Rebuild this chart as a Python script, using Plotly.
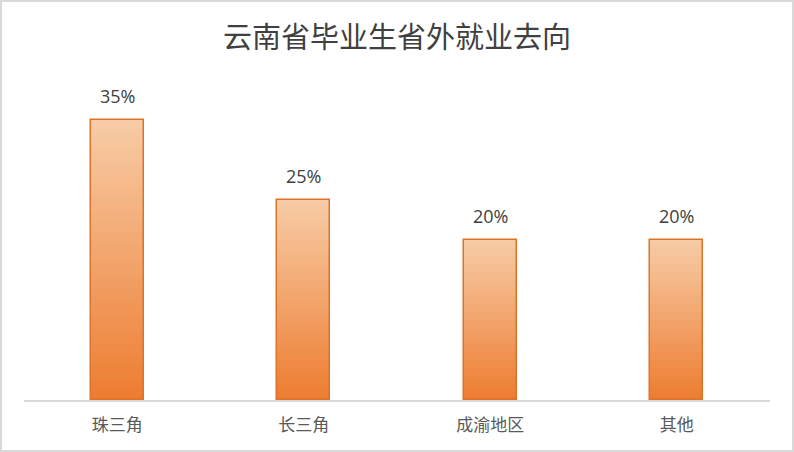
import plotly.graph_objects as go

# ─── Veri ───
categories = ["珠三角", "长三角", "成渝地区", "其他"]
shares = [35, 25, 20, 20]
title_text = "云南省毕业生省外就业去向"

# ─── Stil ───
TOP = (247, 203, 165)
BOTTOM = (237, 125, 49)
EDGE = "#dc7329"
W, H = 794, 452
M = dict(l=24, r=24, t=80, b=52)
N_SLICES = 40
BAR_W = 0.285


def mix(a, b, t):
    return "rgb(%d,%d,%d)" % tuple(round(a[i] + (b[i] - a[i]) * t) for i in range(3))


fig = go.Figure()

# gradient: each bar split into thin stacked slices, light on top, dark at bottom
for k in range(N_SLICES):
    t = k / (N_SLICES - 1)
    fig.add_trace(go.Bar(
        x=categories,
        y=[v / N_SLICES for v in shares],
        base=[v * k / N_SLICES for v in shares],
        width=BAR_W,
        marker=dict(color=mix(BOTTOM, TOP, t), line=dict(width=0)),
        hoverinfo="skip", showlegend=False,
    ))

# outline
fig.add_trace(go.Bar(
    x=categories, y=shares, width=BAR_W,
    marker=dict(color="rgba(0,0,0,0)", line=dict(color=EDGE, width=1.5)),
    showlegend=False,
))

for c, v in zip(categories, shares):
    fig.add_annotation(
        x=c, y=v, text=f"{v}%", showarrow=False, yanchor="bottom", yshift=10,
        font=dict(family="Open Sans, Liberation Sans, sans-serif", size=18, color="#404040"),
    )

# outer frame around the whole picture (paper coords reach into the margins)
pw = W - M["l"] - M["r"]
ph = H - M["t"] - M["b"]
fig.add_shape(
    type="rect", xref="paper", yref="paper",
    x0=(1 - M["l"]) / pw, x1=(W - 1 - M["l"]) / pw,
    y0=(H - M["b"] - (H - 1)) / ph, y1=(H - M["b"] - 1) / ph,
    line=dict(color="#d9d9d9", width=2), fillcolor="rgba(0,0,0,0)", layer="below",
)

fig.update_layout(
    width=W, height=H, margin=M,
    paper_bgcolor="white", plot_bgcolor="white",
    barmode="overlay", bargap=0,
    title=dict(
        text=title_text, x=0.5, xanchor="center", y=1 - 38 / H, yanchor="middle",
        font=dict(family="Noto Sans CJK SC", size=29, color="#404040"),
    ),
    xaxis=dict(
        showline=True, linecolor="#d9d9d9", linewidth=1.5, showgrid=False,
        ticks="", tickfont=dict(family="Noto Sans CJK SC", size=17, color="#595959"),
        ticklabelstandoff=9, fixedrange=True,
    ),
    yaxis=dict(visible=False, range=[0, 40], showgrid=False, zeroline=False, fixedrange=True),
)

# page has a default 8px body margin; drop it so the figure fills the window
fig.write_html(
    "out.html",
    config={"displayModeBar": False},
    post_script="document.body.style.margin='0';",
)
